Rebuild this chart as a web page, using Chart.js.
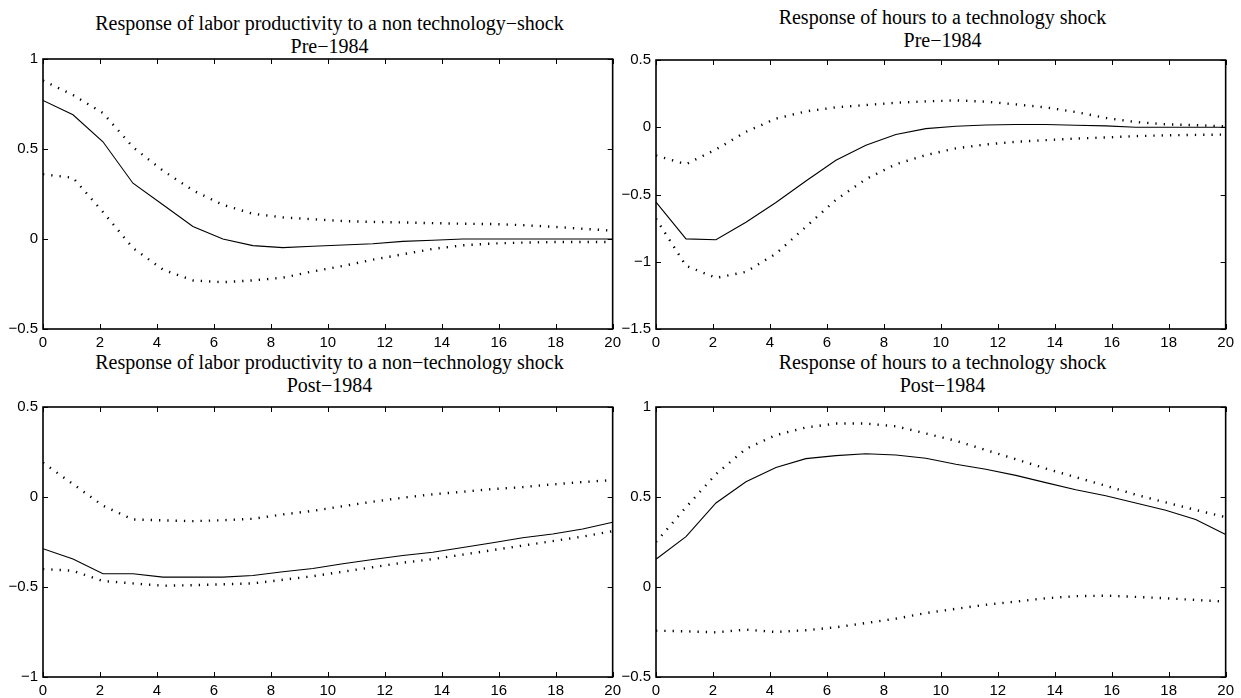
<!DOCTYPE html>
<html>
<head>
<meta charset="utf-8">
<script src="https://cdn.jsdelivr.net/npm/chart.js@4.4.0/dist/chart.umd.min.js"></script>
<style>
  html, body { margin: 0; padding: 0; background: #fff; }
  body { width: 1241px; height: 698px; position: relative; overflow: hidden; }
  .wrap { position: absolute; }
  .title { position: absolute; font-family: "Liberation Serif", "DejaVu Serif", serif; font-size: 20px; color: #000; text-align: center; line-height: 23px; white-space: nowrap; }
</style>
</head>
<body>
<div class="title" id="t0"></div>
<div class="title" id="t1"></div>
<div class="title" id="t2"></div>
<div class="title" id="t3"></div>
<div class="wrap" id="w0"><canvas id="c0"></canvas></div>
<div class="wrap" id="w1"><canvas id="c1"></canvas></div>
<div class="wrap" id="w2"><canvas id="c2"></canvas></div>
<div class="wrap" id="w3"><canvas id="c3"></canvas></div>
<script>
// ---------- DATA ----------
// impulse-response horizons (20 points over 0..20 quarters)
const horizons = [0, 1.053, 2.105, 3.158, 4.211, 5.263, 6.316, 7.368, 8.421, 9.474,
                  10.526, 11.579, 12.632, 13.684, 14.737, 15.789, 16.842, 17.895, 18.947, 20];
const xTicks = [0, 2, 4, 6, 8, 10, 12, 14, 16, 18, 20];

const titles = [
  ["Response of labor productivity to a non technology\u2212shock", "Pre\u22121984"],
  ["Response of hours to a technology shock", "Pre\u22121984"],
  ["Response of labor productivity to a non\u2212technology shock", "Post\u22121984"],
  ["Response of hours to a technology shock", "Post\u22121984"]
];

// Panel 1: labor productivity, non-technology shock, pre-1984
const prodPreMid   = [0.77, 0.69, 0.54, 0.31, 0.19, 0.07, 0.00, -0.037, -0.048, -0.04,
                      -0.033, -0.026, -0.013, -0.007, 0.0, 0.0, 0.0, 0.0, 0.0, 0.0];
const prodPreUp    = [0.88, 0.80, 0.70, 0.51, 0.38, 0.27, 0.19, 0.14, 0.12, 0.11,
                      0.10, 0.095, 0.092, 0.088, 0.085, 0.083, 0.077, 0.068, 0.057, 0.046];
const prodPreLo    = [0.36, 0.34, 0.15, -0.05, -0.17, -0.23, -0.24, -0.23, -0.215, -0.18,
                      -0.15, -0.115, -0.085, -0.055, -0.035, -0.025, -0.02, -0.017, -0.017, -0.017];

// Panel 2: hours, technology shock, pre-1984
const hoursPreMid  = [-0.556, -0.83, -0.836, -0.706, -0.56, -0.40, -0.246, -0.133, -0.054, -0.01,
                      0.007, 0.017, 0.02, 0.02, 0.015, 0.01, 0.0, 0.0, 0.0, 0.0];
const hoursPreUp   = [-0.21, -0.275, -0.165, -0.034, 0.064, 0.118, 0.148, 0.165, 0.182, 0.192,
                      0.20, 0.19, 0.17, 0.148, 0.113, 0.069, 0.039, 0.022, 0.015, 0.007];
const hoursPreLo   = [-0.68, -1.03, -1.12, -1.075, -0.94, -0.74, -0.54, -0.386, -0.275, -0.207,
                      -0.157, -0.128, -0.108, -0.096, -0.084, -0.076, -0.066, -0.06, -0.057, -0.054];

// Panel 3: labor productivity, non-technology shock, post-1984
const prodPostMid  = [-0.287, -0.345, -0.426, -0.426, -0.445, -0.445, -0.445, -0.436, -0.415, -0.397,
                      -0.371, -0.347, -0.325, -0.307, -0.281, -0.254, -0.226, -0.206, -0.178, -0.14];
const prodPostUp   = [0.19, 0.072, -0.048, -0.125, -0.13, -0.134, -0.129, -0.121, -0.097, -0.077,
                      -0.051, -0.026, -0.004, 0.015, 0.029, 0.044, 0.055, 0.07, 0.083, 0.094];
const prodPostLo   = [-0.40, -0.41, -0.467, -0.48, -0.493, -0.49, -0.485, -0.48, -0.46, -0.44,
                      -0.415, -0.39, -0.365, -0.345, -0.32, -0.295, -0.27, -0.245, -0.22, -0.19];

// Panel 4: hours, technology shock, post-1984
const hoursPostMid = [0.154, 0.28, 0.467, 0.585, 0.664, 0.713, 0.73, 0.74, 0.733, 0.715,
                      0.682, 0.654, 0.62, 0.58, 0.54, 0.507, 0.467, 0.426, 0.375, 0.292];
const hoursPostUp  = [0.25, 0.443, 0.627, 0.768, 0.844, 0.886, 0.908, 0.908, 0.893, 0.853,
                      0.8125, 0.761, 0.71, 0.658, 0.61, 0.5625, 0.513, 0.47, 0.428, 0.388];
const hoursPostLo  = [-0.243, -0.246, -0.252, -0.237, -0.25, -0.24, -0.224, -0.2, -0.176, -0.145,
                      -0.121, -0.099, -0.081, -0.0625, -0.051, -0.048, -0.055, -0.0625, -0.072, -0.081];

const yRanges = [[-0.5, 1], [-1.5, 0.5], [-1, 0.5], [-0.5, 1]];
const panelSeries = [
  [prodPreMid, prodPreUp, prodPreLo],
  [hoursPreMid, hoursPreUp, hoursPreLo],
  [prodPostMid, prodPostUp, prodPostLo],
  [hoursPostMid, hoursPostUp, hoursPostLo]
];

// ---------- LAYOUT ----------
// plot-area boxes: [left, top, right, bottom]
const areas = [
  [43, 57, 616, 329],
  [656, 58, 1229, 329],
  [43, 405, 616, 677],
  [656, 405, 1229, 677]
];
const titleY = [12, 6, 351, 351];

const boxPlugin = {
  id: 'matlabBox',
  afterDatasetsDraw(chart) {
    const ctx = chart.ctx, a = chart.chartArea;
    const xs = chart.scales.x, ys = chart.scales.y;
    const tl = 5;
    ctx.save();
    ctx.strokeStyle = '#000';
    ctx.lineWidth = 1;
    ctx.beginPath();
    xs.ticks.forEach(t => {
      const px = Math.round(xs.getPixelForValue(t.value)) + 0.5;
      ctx.moveTo(px, a.bottom); ctx.lineTo(px, a.bottom - tl);
      ctx.moveTo(px, a.top); ctx.lineTo(px, a.top + tl);
    });
    ys.ticks.forEach(t => {
      const py = Math.round(ys.getPixelForValue(t.value)) + 0.5;
      ctx.moveTo(a.left, py); ctx.lineTo(a.left + tl, py);
      ctx.moveTo(a.right, py); ctx.lineTo(a.right - tl, py);
    });
    ctx.stroke();
    ctx.lineWidth = 1.6;
    ctx.strokeRect(a.left, a.top, a.right - a.left, a.bottom - a.top);
    ctx.restore();
  }
};

// MATLAB-style labels with a true minus sign
const fmt = v => String(Math.round(v * 100) / 100).replace('-', '\u2212');

for (let p = 0; p < 4; p++) {
  const [L, T, R, B] = areas[p];
  const canvasLeft = (p % 2 === 0) ? 0 : 620;
  const canvasTop = T - 12;
  const axisW = L - canvasLeft;
  const xAxisH = 26;
  const padR = 10;
  const w = R + padR - canvasLeft;
  const h = B + xAxisH - canvasTop;

  const wrap = document.getElementById('w' + p);
  wrap.style.left = canvasLeft + 'px';
  wrap.style.top = canvasTop + 'px';
  wrap.style.width = w + 'px';
  wrap.style.height = h + 'px';

  const t = document.getElementById('t' + p);
  t.innerHTML = titles[p][0] + '<br>' + titles[p][1];
  t.style.left = L + 'px';
  t.style.width = (R - L) + 'px';
  t.style.top = titleY[p] + 'px';

  const [mid, up, lo] = panelSeries[p];
  const toPts = arr => arr.map((v, i) => ({ x: horizons[i], y: v }));
  const dotted = { borderColor: '#000', borderWidth: 2.4, borderDash: [1.3, 7], borderCapStyle: 'butt', pointRadius: 0, tension: 0, fill: false };

  new Chart(document.getElementById('c' + p), {
    type: 'line',
    data: {
      datasets: [
        { data: toPts(mid), borderColor: '#000', borderWidth: 1.1, pointRadius: 0, tension: 0, fill: false },
        Object.assign({ data: toPts(up) }, dotted),
        Object.assign({ data: toPts(lo) }, dotted)
      ]
    },
    options: {
      responsive: true,
      maintainAspectRatio: false,
      animation: false,
      events: [],
      layout: { padding: { top: 12, right: padR, left: 0, bottom: 0 } },
      plugins: { legend: { display: false }, title: { display: false }, tooltip: { enabled: false } },
      scales: {
        x: {
          type: 'linear', min: 0, max: 20,
          afterBuildTicks: s => { s.ticks = xTicks.map(v => ({ value: v })); },
          afterFit: s => { s.height = xAxisH; },
          grid: { display: false, drawTicks: false },
          border: { display: false },
          ticks: { color: '#000', padding: 5, maxRotation: 0, autoSkip: false,
                   font: { family: '"Liberation Sans", Arial, sans-serif', size: 15 },
                   callback: v => fmt(v) }
        },
        y: {
          type: 'linear', min: yRanges[p][0], max: yRanges[p][1],
          ticks: { stepSize: 0.5, color: '#000', padding: 5,
                   font: { family: '"Liberation Sans", Arial, sans-serif', size: 15 },
                   callback: v => fmt(v) },
          afterFit: s => { s.width = axisW; },
          grid: { display: false, drawTicks: false },
          border: { display: false }
        }
      }
    },
    plugins: [boxPlugin]
  });
}
</script>
</body>
</html>
